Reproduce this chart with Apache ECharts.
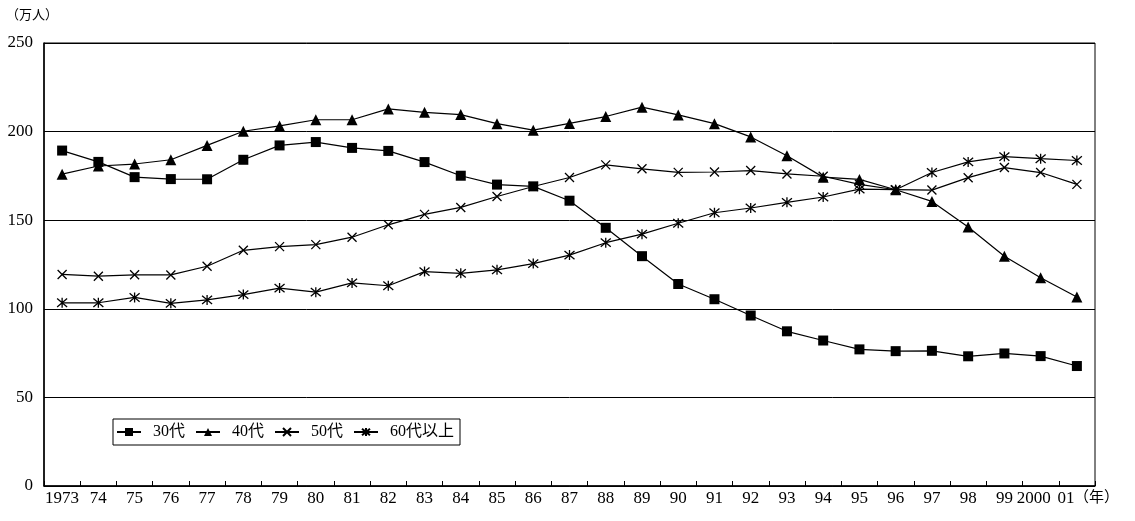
<!DOCTYPE html>
<html>
<head>
<meta charset="utf-8">
<script src="https://cdn.jsdelivr.net/npm/echarts@6/dist/echarts.min.js"></script>
<style>
html,body{margin:0;padding:0;background:#fff;}
#main{width:1135px;height:521px;}
</style>
</head>
<body>
<div id="main"></div>
<script>
var years = ['1973','74','75','76','77','78','79','80','81','82','83','84','85','86','87','88','89','90','91','92','93','94','95','96','97','98','99','2000','01'];
var s30 = [189.3,182.9,174.3,173.2,173.1,184.1,192.2,194.1,190.8,189.1,182.8,175.1,170.1,169.1,161.0,145.7,129.7,114.0,105.4,96.2,87.3,82.1,77.1,76.1,76.3,73.2,74.8,73.3,67.7];
var s40 = [176.0,180.6,181.7,184.1,192.2,200.2,203.2,206.7,206.7,212.8,210.9,209.6,204.5,200.8,204.6,208.5,213.8,209.4,204.5,197.0,186.4,174.3,173.0,167.2,160.6,146.2,129.7,117.5,106.7];
var s50 = [119.4,118.4,119.2,119.1,124.0,133.0,135.1,136.2,140.4,147.4,153.3,157.2,163.4,169.0,174.1,181.2,179.0,177.0,177.2,178.0,176.1,174.8,170.2,167.2,167.0,174.0,179.7,176.9,170.2];
var s60 = [103.4,103.4,106.4,103.1,105.0,108.0,111.7,109.4,114.6,113.0,121.0,120.0,122.0,125.5,130.3,137.3,142.1,148.3,154.2,156.9,160.1,163.1,167.5,167.2,176.9,182.9,185.9,184.7,183.7];
var names = ['30代','40代','50代','60代以上'];
var yTicks = {min:0, max:250, interval:50};

var FONT = '"Liberation Serif","Noto Sans CJK JP",serif';
var chart = echarts.init(document.getElementById('main'), null, {renderer:'canvas'});

function mkSeries(name, data, symbol, size, stroke){
  return {
    name: name, type: 'line', data: data,
    symbol: symbol, symbolSize: size, showSymbol: true,
    lineStyle: {color:'#000', width:1.2},
    itemStyle: stroke ? {color:'rgba(0,0,0,0)', borderColor:'#000', borderWidth:1.3} : {color:'#000', borderColor:'#000', borderWidth:0},
    emphasis: {disabled:true},
    z: 3
  };
}

chart.setOption({
  animation: false,
  backgroundColor: '#fff',
  grid: {left:44, right:40, top:43, bottom:35, show:true, borderColor:'#000', borderWidth:1, backgroundColor:'transparent'},
  xAxis: {
    type:'category', data: years, boundaryGap: true,
    axisLine:{show:true, lineStyle:{color:'#000', width:1.5}},
    axisTick:{show:true, inside:true, length:5, lineStyle:{color:'#000'}},
    axisLabel:{color:'#000', fontFamily:FONT, fontSize:17, margin:4, interval:0,
      formatter:function(v, i){
        if (i === years.length-1) return '{last|'+v+'}';
        if (i === years.length-2) return '{prev|'+v+'}';
        return v;
      },
      rich:{
        last:{fontFamily:FONT, fontSize:17, color:'#000', padding:[0,22,0,0]},
        prev:{fontFamily:FONT, fontSize:17, color:'#000', padding:[0,14,0,0]}
      }
    },
    splitLine:{show:false}
  },
  yAxis: {
    type:'value', min:yTicks.min, max:yTicks.max, interval:yTicks.interval,
    axisLine:{show:true, lineStyle:{color:'#000', width:1.5}},
    axisTick:{show:false},
    axisLabel:{color:'#000', fontFamily:FONT, fontSize:17, margin:11},
    splitLine:{show:true, lineStyle:{color:'#000', width:1}}
  },
  legend: {
    left: 113, top: 419,
    orient:'horizontal',
    data: names,
    backgroundColor:'#fff',
    borderColor:'#000', borderWidth:1,
    padding:[5,6,5,3],
    itemWidth: 24, itemHeight: 10, itemGap: 10,
    textStyle:{color:'#000', fontFamily:FONT, fontSize:16, padding:[0,0,0,7]}
  },
  graphic: [
    {type:'text', left:6, top:8, style:{text:'（万人）', font:'13px "Noto Sans CJK JP"', fill:'#000'}},
    {type:'text', left:1074, top:489, style:{text:'（年）', font:'15px "Noto Sans CJK JP"', fill:'#000'}}
  ],
  series: [
    mkSeries(names[0], s30, 'rect', 10, false),
    mkSeries(names[1], s40, 'triangle', 11, false),
    mkSeries(names[2], s50, 'path://M0,0L10,10M10,0L0,10', 9, true),
    mkSeries(names[3], s60, 'path://M0,0L10,10M10,0L0,10M5,-1L5,11', 10, true)
  ]
});
</script>
</body>
</html>
